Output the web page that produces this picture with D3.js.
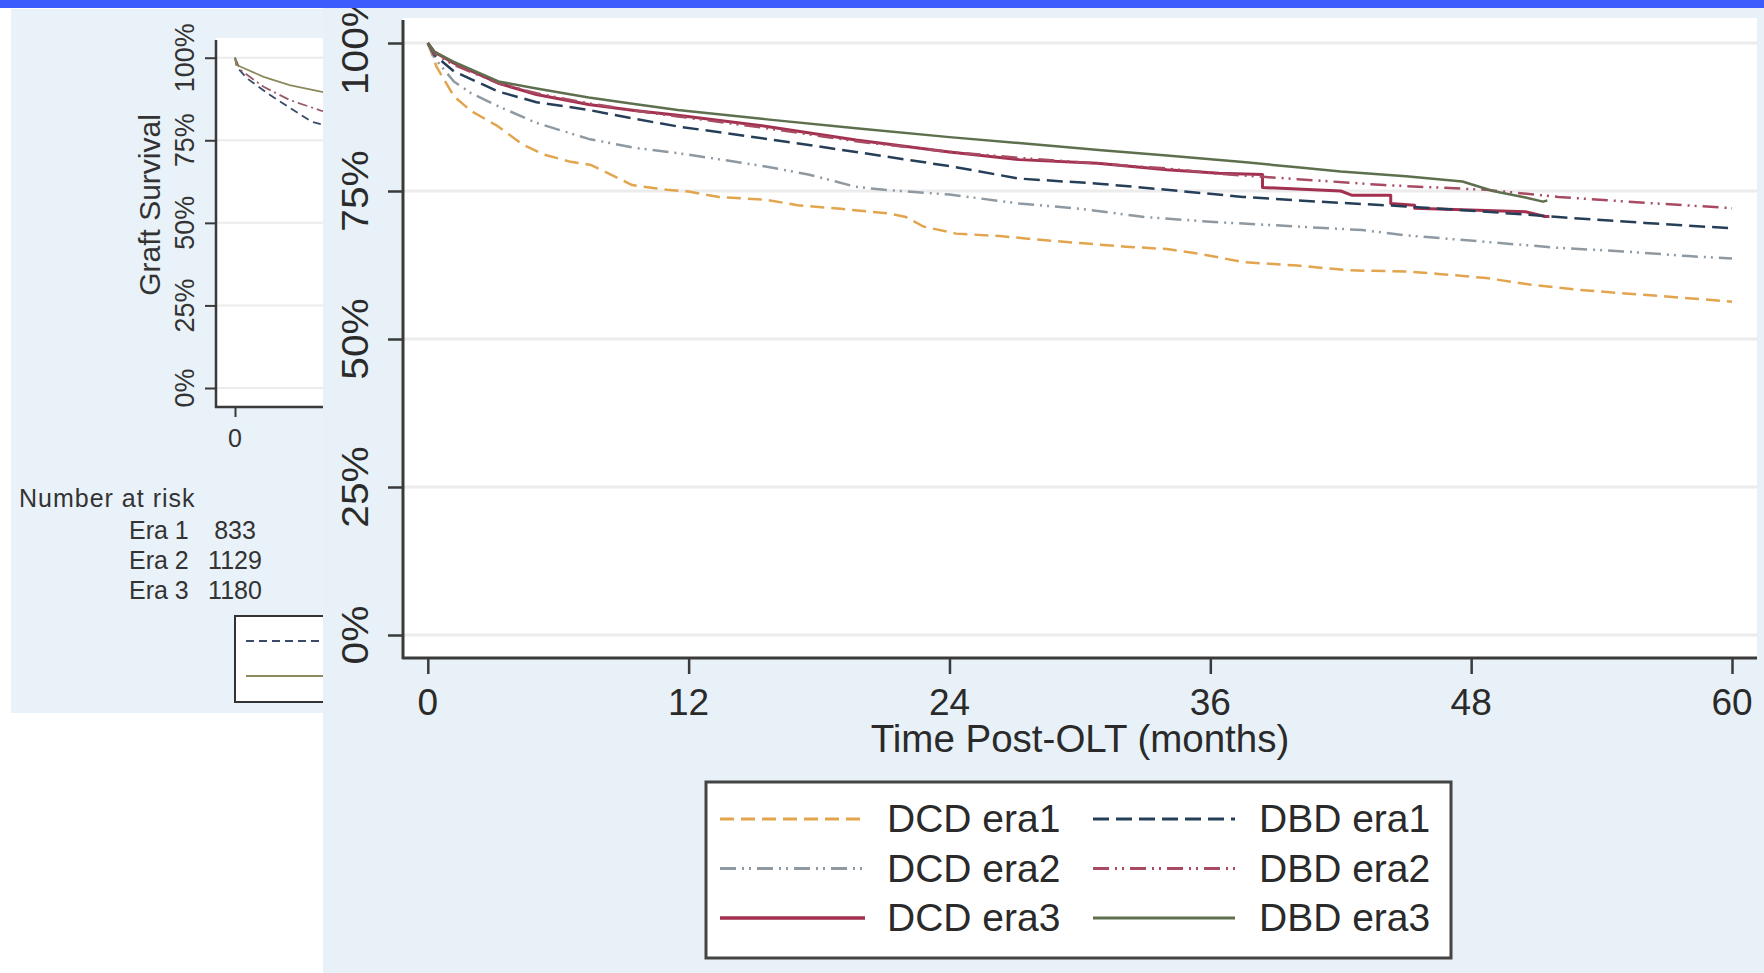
<!DOCTYPE html>
<html>
<head>
<meta charset="utf-8">
<title>Graft survival by era</title>
<script src="https://cdn.jsdelivr.net/npm/d3@7"></script>
<style>
  body { margin: 0; background: #fff; }
  svg { display: block; font-family: "Liberation Sans", Arial, sans-serif; }
</style>
</head>
<body>
<svg id="chart" width="1764" height="973"></svg>
<script>
// ---- front chart: graft survival by donor type and era ----
var xTicks = [0, 12, 24, 36, 48, 60];
var yTicks = [0, 25, 50, 75, 100];
var seriesNames = ["DCD era1", "DCD era2", "DCD era3", "DBD era1", "DBD era2", "DBD era3"];

// [months, survival %]
var dcdEra1 = [[0,100],[0.4,96],[1.2,91],[2,88.5],[3.2,86],[4.3,83],[5.3,81.2],[6.5,80],[7.5,79.4],[8.4,77.8],
  [9.4,76],[11,75.2],[12,74.9],[13.4,74],[15.6,73.5],[17,72.6],[19,72],[21.2,71.2],[22,70.6],[22.8,69],
  [24.3,67.8],[26.3,67.4],[28,66.8],[30,66.2],[32.1,65.6],[34,65.2],[35.5,64.4],[37.5,63],[40,62.4],
  [42.4,61.6],[45,61.4],[46.5,61],[48.7,60.3],[50.7,59.2],[53,58.3],[55.4,57.6],[58,56.9],[60,56.3]];
var dcdEra2 = [[0,100],[0.3,97.5],[1.2,93.5],[2,91.5],[3.25,89.3],[5,86.5],[7.4,83.8],[9.5,82.3],[11.5,81.4],
  [13.5,80.3],[15.6,79.1],[17.5,77.8],[19.7,75.7],[21,75.2],[24,74.4],[27.2,72.9],[30,72],[33,70.6],
  [36,69.8],[37.5,69.5],[40,69],[43,68.4],[45,67.5],[48.7,66.4],[52,65.4],[55,64.8],[58,64],[60,63.6]];
var dcdEra3 = [[0,100],[0.3,98.5],[1.2,96.6],[3.25,93.2],[5,91.3],[7.4,89.6],[9.5,88.6],[11.5,87.8],
  [15.6,85.9],[19.7,83.6],[24,81.6],[27.2,80.3],[30.8,79.7],[34,78.6],[36.4,78],[38.4,77.8],[38.4,75.6],
  [42,75],[42.5,74.3],[44.3,74.3],[44.3,72.9],[45.4,72.6],[45.4,72.1],[50.5,71.5],[51.4,70.7],[51.6,70.7]];
var dbdEra1 = [[0,100],[0.3,98],[1.2,95.2],[3.25,91.8],[5,90],[7.4,88.7],[9.5,87.2],[11.5,85.9],[15.6,83.8],
  [19.7,81.6],[24,79.2],[27.2,77.1],[31,76.2],[34,75.2],[37.5,74],[41,73.2],[45,72.4],[48.7,71.5],
  [52,70.6],[56,69.6],[60,68.7]];
var dbdEra2 = [[0,100],[0.3,98.2],[1.2,96.3],[3.25,93.2],[5,91.5],[7.4,89.8],[9.5,88.6],[11.5,87.6],
  [15.6,85.6],[19.7,83.4],[24,81.6],[27.2,80.6],[31,79.6],[34,78.8],[36.4,77.9],[40,77],[44,76],
  [48.7,75.2],[52,74],[56,73],[60,72.1]];
var dbdEra3 = [[0,100],[0.3,98.5],[1.2,96.8],[3.25,93.5],[5,92.3],[7.4,90.8],[9.5,89.7],[11.5,88.7],
  [15.6,87.1],[19.7,85.6],[24,84.1],[27.2,83.1],[31,81.9],[34,81],[37.5,79.9],[40,79],[42,78.3],
  [45,77.5],[47.6,76.6],[49,75],[50.5,73.9],[51.3,73.2],[51.5,73.4]];
var seriesData = [dcdEra1, dcdEra2, dcdEra3, dbdEra1, dbdEra2, dbdEra3];

// ---- back chart (mostly covered) ----
var backTicksY = [0, 25, 50, 75, 100];
var backTicksX = [0];
var riskRows = ["Era 1", "Era 2", "Era 3"];
var riskCounts = [833, 1129, 1180];
var backEra1 = [[0,100],[0.13,97.3],[0.9,93.8],[2.7,88.7],[4.7,83.6],[5.9,80.6],[6.6,79.9],[8,79.5]];
var backEra2 = [[0,100],[0.4,96.3],[2.2,91.2],[4.2,87.2],[6.6,84],[8,83]];
var backEra3 = [[0,100],[0.13,97.8],[2.2,94.2],[4.2,91.7],[6.6,89.7],[8,89]];
var backData = [backEra1, backEra2, backEra3];

// styles
var styles = {
  "DCD era1": {color: "#e3a44e", dash: "14 7", width: 2.5},
  "DCD era2": {color: "#8e99a2", dash: "16 6 2 5 2 6", width: 2.5},
  "DCD era3": {color: "#a3304f", dash: null, width: 3},
  "DBD era1": {color: "#263f58", dash: "16 7", width: 2.5},
  "DBD era2": {color: "#a84a62", dash: "16 6 2 5 2 6", width: 2.5},
  "DBD era3": {color: "#5e6f4e", dash: null, width: 2.5}
};
var backStyles = [
  {color: "#3a4a68", dash: "8 5"},
  {color: "#9a5a68", dash: "10 4 2 4"},
  {color: "#8a8a5c", dash: null}
];

var svg = d3.select("#chart");
var axisColor = "#3a3a3a";
var gridColor = "#ececec";
var panelBlue = "#e7f1f7";

// ================= back chart =================
var back = svg.append("g");
back.append("rect").attr("x", 11).attr("y", 9).attr("width", 320).attr("height", 704).attr("fill", "#e9f2f8");
back.append("rect").attr("x", 216).attr("y", 38).attr("width", 120).attr("height", 369).attr("fill", "#fff");

var bx = d3.scaleLinear().domain([0, 60]).range([235, 1015]);
var by = d3.scaleLinear().domain([0, 100]).range([388, 57.7]);

back.selectAll(".bgrid").data(backTicksY).join("line")
  .attr("x1", 216).attr("x2", 330)
  .attr("y1", d => by(d)).attr("y2", d => by(d))
  .attr("stroke", gridColor).attr("stroke-width", 2);

var bline = d3.line().x(d => bx(d[0])).y(d => by(d[1]));
back.selectAll(".bcurve").data(backData).join("path")
  .attr("d", bline).attr("fill", "none")
  .attr("stroke", (d, i) => backStyles[i].color)
  .attr("stroke-dasharray", (d, i) => backStyles[i].dash)
  .attr("stroke-width", 1.8);

back.append("g").attr("transform", "translate(216,0)")
  .call(d3.axisLeft(by).tickValues(backTicksY).tickSize(11).tickFormat(""))
  .call(g => g.select(".domain").remove());
back.append("g").attr("transform", "translate(0,407)")
  .call(d3.axisBottom(bx).tickValues(backTicksX).tickSize(10).tickFormat(""))
  .call(g => g.select(".domain").remove());
back.selectAll(".tick line").attr("stroke", axisColor).attr("stroke-width", 2);
back.append("line").attr("x1", 216).attr("x2", 216).attr("y1", 40).attr("y2", 408)
  .attr("stroke", axisColor).attr("stroke-width", 2.5);
back.append("line").attr("x1", 215).attr("x2", 330).attr("y1", 407).attr("y2", 407)
  .attr("stroke", axisColor).attr("stroke-width", 2.5);

back.selectAll(".bylab").data(backTicksY).join("text")
  .attr("transform", d => "translate(194," + by(d) + ") rotate(-90)")
  .attr("text-anchor", "middle").attr("font-size", 27).attr("fill", "#333")
  .text(d => d + "%");
back.append("text").attr("transform", "translate(160,205) rotate(-90)")
  .attr("text-anchor", "middle").attr("font-size", 30).attr("fill", "#333")
  .text("Graft Survival");
back.selectAll(".bxlab").data(backTicksX).join("text")
  .attr("x", d => bx(d)).attr("y", 447).attr("text-anchor", "middle")
  .attr("font-size", 25).attr("fill", "#333").text(d => d);

back.append("text").attr("x", 19).attr("y", 507).attr("font-size", 25)
  .attr("letter-spacing", 1).attr("fill", "#333").text("Number at risk");
back.selectAll(".rname").data(riskRows).join("text")
  .attr("x", 129).attr("y", (d, i) => 539 + i * 30).attr("font-size", 25).attr("fill", "#333").text(d => d);
back.selectAll(".rnum").data(riskCounts).join("text")
  .attr("x", bx(0)).attr("y", (d, i) => 539 + i * 30).attr("text-anchor", "middle")
  .attr("font-size", 25).attr("fill", "#333").text(d => d);

back.append("rect").attr("x", 235).attr("y", 616).attr("width", 120).attr("height", 86)
  .attr("fill", "#fff").attr("stroke", "#333").attr("stroke-width", 2);
back.append("line").attr("x1", 246).attr("x2", 330).attr("y1", 641).attr("y2", 641)
  .attr("stroke", backStyles[0].color).attr("stroke-dasharray", backStyles[0].dash).attr("stroke-width", 1.8);
back.append("line").attr("x1", 246).attr("x2", 330).attr("y1", 676).attr("y2", 676)
  .attr("stroke", backStyles[2].color).attr("stroke-width", 1.8);

// ================= front chart =================
var front = svg.append("g");
front.append("rect").attr("x", 323).attr("y", 8).attr("width", 1441).attr("height", 965).attr("fill", panelBlue);
front.append("rect").attr("x", 403).attr("y", 18).attr("width", 1354).attr("height", 640).attr("fill", "#fff");

var x = d3.scaleLinear().domain([0, 60]).range([427.8, 1732]);
var y = d3.scaleLinear().domain([0, 100]).range([635, 43]);

front.selectAll(".grid").data(yTicks).join("line")
  .attr("x1", 404).attr("x2", 1757)
  .attr("y1", d => y(d)).attr("y2", d => y(d))
  .attr("stroke", gridColor).attr("stroke-width", 3);

var line = d3.line().x(d => x(d[0])).y(d => y(d[1]));
front.selectAll(".curve").data(seriesData).join("path")
  .attr("d", line).attr("fill", "none")
  .attr("stroke", (d, i) => styles[seriesNames[i]].color)
  .attr("stroke-dasharray", (d, i) => styles[seriesNames[i]].dash)
  .attr("stroke-width", (d, i) => styles[seriesNames[i]].width)
  .attr("stroke-linejoin", "round");

var yAxis = front.append("g").attr("transform", "translate(403,0)")
  .call(d3.axisLeft(y).tickValues(yTicks).tickSize(15).tickFormat(""));
var xAxis = front.append("g").attr("transform", "translate(0,658)")
  .call(d3.axisBottom(x).tickValues(xTicks).tickSize(16).tickFormat(""));
yAxis.select(".domain").remove();
xAxis.select(".domain").remove();
front.selectAll(".tick line").attr("stroke", axisColor).attr("stroke-width", 2.5);
front.append("line").attr("x1", 403).attr("x2", 403).attr("y1", 20).attr("y2", 659)
  .attr("stroke", axisColor).attr("stroke-width", 3);
front.append("line").attr("x1", 402).attr("x2", 1757).attr("y1", 658).attr("y2", 658)
  .attr("stroke", axisColor).attr("stroke-width", 3);

front.selectAll(".ylab").data(yTicks).join("text")
  .attr("transform", d => "translate(368," + y(d) + ") rotate(-90) scale(1.1,1)")
  .attr("text-anchor", "middle").attr("font-size", 37).attr("fill", "#2a2a2a")
  .text(d => d + "%");
front.selectAll(".xlab").data(xTicks).join("text")
  .attr("x", d => x(d)).attr("y", 715).attr("text-anchor", "middle")
  .attr("font-size", 37).attr("fill", "#2a2a2a").text(d => d);
front.append("text").attr("x", 1080).attr("y", 752).attr("text-anchor", "middle")
  .attr("font-size", 38.5).attr("fill", "#2a2a2a").text("Time Post-OLT (months)");

// legend
var legend = front.append("g");
legend.append("rect").attr("x", 706).attr("y", 782).attr("width", 745).attr("height", 176)
  .attr("fill", "#fff").attr("stroke", "#444").attr("stroke-width", 3);
var legendItems = legend.selectAll(".item").data(seriesNames).join("g")
  .attr("transform", (d, i) => "translate(" + (i < 3 ? 720 : 1093) + "," + (819 + (i % 3) * 49.5) + ")");
legendItems.append("line").attr("x1", 0).attr("x2", (d, i) => i < 3 ? 145 : 142)
  .attr("stroke", d => styles[d].color).attr("stroke-dasharray", d => styles[d].dash)
  .attr("stroke-width", d => styles[d].width + 0.5);
legendItems.append("text").attr("x", (d, i) => i < 3 ? 167 : 166).attr("y", 13)
  .attr("font-size", 39).attr("fill", "#2a2a2a").text(d => d);

// top band
svg.append("rect").attr("x", 0).attr("y", 0).attr("width", 1764).attr("height", 8).attr("fill", "#3d5cfc");
</script>
</body>
</html>
